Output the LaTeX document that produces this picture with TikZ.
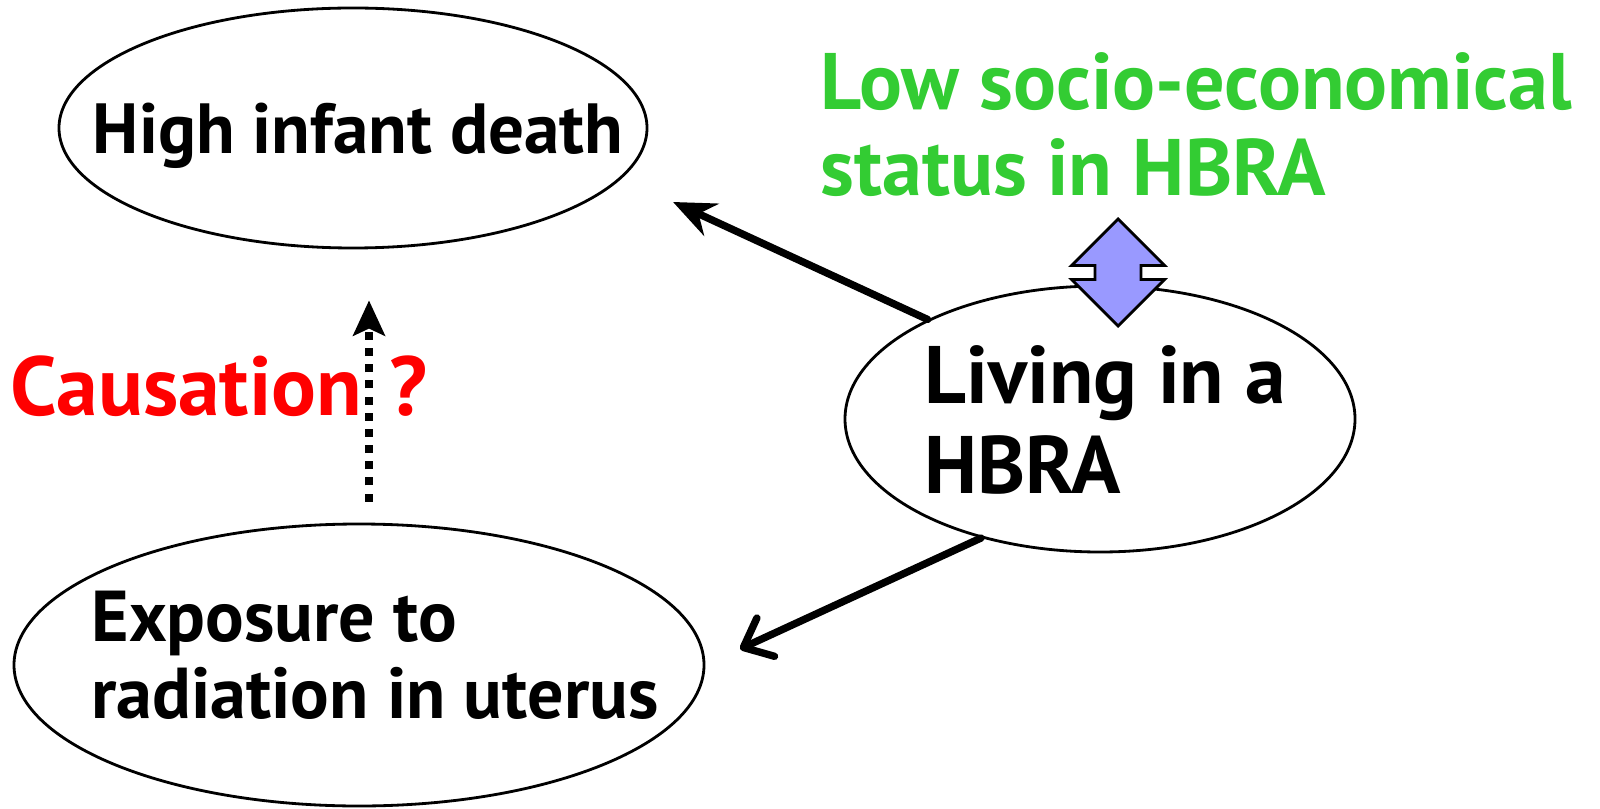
\documentclass[tikz,border=0pt]{standalone}
\usepackage{fontspec}
\setmainfont{PT Sans}
\usetikzlibrary{arrows.meta, shapes, positioning, calc}
\definecolor{popgreen}{HTML}{33CC33}
\definecolor{popred}{HTML}{FF0000}
\definecolor{linkblue}{HTML}{9999FF}

\begin{document}
\begin{tikzpicture}[
    line cap=round, line join=round,
    oval/.style={draw=black, ellipse, line width=0.8pt, inner sep=0pt},
    ovaltext/.style={align=left, inner sep=0pt},
    causearrow/.style={line width=2.1pt, black},
    dotarrow/.style={line width=2.3pt, black, line cap=butt, dash pattern=on 2.3pt off 2.3pt}
  ]
    \useasboundingbox (0,0) rectangle (16,8.08);

    % Ellipsen
    \node[oval, minimum width=5.88cm, minimum height=2.40cm] (Death) at (3.53, 6.80) {};
    \node[oval, minimum width=5.10cm, minimum height=2.66cm] (Living) at (11.00, 3.89) {};
    \node[oval, minimum width=6.90cm, minimum height=2.82cm] (Exposure) at (3.59, 1.43) {};

    % Texte in den Ellipsen
    \node[ovaltext, font=\fontsize{20.2}{24}\selectfont\bfseries] (DeathText) at (3.58, 6.72) {High infant death};
    \node[ovaltext, font=\fontsize{23.2}{25.5}\selectfont\bfseries] (LivingText) at (11.05, 3.88) {Living in a\\ HBRA};
    \node[ovaltext, font=\fontsize{20.5}{22}\selectfont\bfseries] (ExposureText) at (3.75, 1.53) {Exposure to\\ radiation in uterus};

    % Texte
    \node[anchor=west, align=left, inner sep=0pt, text=popgreen, font=\fontsize{22.8}{24.5}\selectfont\bfseries] (Status) at (8.20, 6.83) {Low socio-economical\\ status in HBRA};
    \node[anchor=west, inner sep=0pt, text=popred, font=\fontsize{23.8}{26}\selectfont\bfseries] (Causation) at (0.10, 4.22) {Causation\hspace{0.28cm}?};

    % Doppelpfeil
    \coordinate (Link) at (11.18, 5.355);
    \draw[fill=linkblue, line width=0.8pt, line join=miter] (Link)
      ++(0, 0.535) -- ++(-0.465, -0.465) -- ++(0.235, 0) -- ++(0, -0.14) -- ++(-0.235, 0)
      -- ++(0.465, -0.465) -- ++(0.465, 0.465) -- ++(-0.235, 0) -- ++(0, 0.14) -- ++(0.235, 0) -- cycle;

    % Pfeile
    \coordinate (tipA) at (6.73, 6.06);
    \coordinate (tipB) at (7.40, 1.59);
    \draw[causearrow, -{Stealth[length=12pt, width=10pt, inset=4pt]}] (Living.150) -- (tipA);
    \draw[causearrow, -{Straight Barb[length=7pt, width=12pt, round, line width=0pt 1]}] (Living.225) -- (tipB);

    % Kausalitaet?
    \draw[dotarrow, -{Stealth[length=10pt, width=9pt, inset=2pt]}] ($(Exposure.north)+(0.10,0.21)$) -- ($(Death.south)+(0.16,-0.51)$);

  \end{tikzpicture}
\end{document}
